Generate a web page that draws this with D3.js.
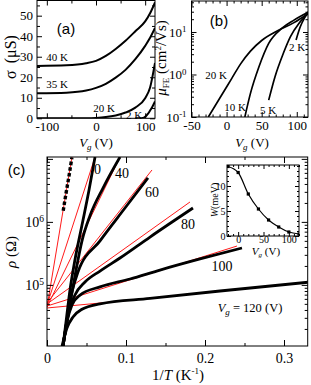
<!DOCTYPE html>
<html><head><meta charset="utf-8">
<script src="https://cdn.jsdelivr.net/npm/d3@7/dist/d3.min.js"></script>
<style>html,body{margin:0;padding:0;background:#fff}svg{display:block}</style>
</head><body>
<svg id="fig" width="311" height="385"></svg>
<script>
// ---------------- Panel (a): sigma (uS) vs Vg (V) ----------------
const aLabels = ["40 K", "35 K", "20 K", "2 K"];
const aV40 = [-120, -60, -20, 0, 20, 40, 60, 80, 100, 110, 120];
const aS40 = [25.5, 25.8, 26.8, 28.0, 30.4, 33.8, 37.8, 42.4, 47.2, 51.2, 56.5];
const aV35 = [-120, -60, -20, 0, 20, 40, 60, 80, 100, 110, 120];
const aS35 = [12.2, 12.5, 13.5, 14.8, 16.8, 19.8, 23.6, 28.8, 35.3, 39.2, 44.0];
const aV20 = [-120, -60, -20, 0, 20, 40, 60, 80, 100, 110, 120];
const aS20 = [0, 0, 0.05, 0.2, 0.6, 1.4, 2.8, 5.2, 9.8, 15.0, 27.0];
const aV2 = [80, 90, 95, 100, 105, 110, 115, 120];
const aS2 = [0, 0, 0.1, 0.7, 2.0, 3.8, 5.8, 8.2];
const aXTicks = [-100, 0, 100];
const aXMinor = [-50, 50];
const aYTicks = [0, 10, 20, 30, 40, 50];
const aYMinor = [5, 15, 25, 35, 45, 55];

// ---------------- Panel (b): mobility vs Vg ----------------
const bLabels = ["20 K", "10 K", "5 K", "2 K"];
const bV20 = [-26, -7, 7, 20, 34, 50, 72, 96, 116];
const bM20 = [0.1, 0.33, 0.79, 1.78, 3.55, 6.3, 10.5, 16.6, 27];
const bV10 = [26, 34, 46, 60, 79, 96, 116];
const bM10 = [0.1, 0.36, 1.5, 5.4, 12.3, 19, 29];
const bV5 = [60, 69, 81, 91, 103, 116];
const bM5 = [0.25, 0.89, 3.2, 7.8, 15.9, 27];
const bV2 = [99, 105, 112, 116];
const bM2 = [6.5, 13.3, 23, 29.5];
const bXTicks = [-50, 0, 50, 100];
const bXMinor = [-40, -30, -20, -10, 10, 20, 30, 40, 60, 70, 80, 90, 110];
const bYTicks = [0.1, 1, 10];

// ---------------- Panel (c): rho vs 1/T ----------------
const cLabels = ["0", "40", "60", "80", "100"];
const cXm = [0.0205, 0.024, 0.028, 0.0315];          // dashed (lowest Vg)
const cRm = [1.5e6, 2.8e6, 5.5e6, 1.05e7];
const cX0 = [0.0203, 0.0241, 0.0291, 0.0354, 0.0443, 0.0532, 0.0608];
const cR0 = [1.07e4, 2.6e4, 8.3e4, 2.5e5, 8.9e5, 3.2e6, 1.07e7];
const cX40 = [0.0203, 0.0253, 0.0304, 0.0367, 0.0443, 0.0544, 0.0709, 0.0924];
const cR40 = [1.07e4, 2.6e4, 6.2e4, 1.7e5, 5.0e5, 1.25e6, 3.45e6, 1.07e7];
const cX60 = [0.0203, 0.0253, 0.0316, 0.0392, 0.0671, 0.0987, 0.1278];
const cR60 = [1.07e4, 2.8e4, 7.7e4, 1.6e5, 5.0e5, 1.66e6, 5.0e6];
const cX80 = [0.0203, 0.0266, 0.0354, 0.0481, 0.0671, 0.0924, 0.1304, 0.1848];
const cR80 = [1.07e4, 3.3e4, 6.9e4, 1.11e5, 1.66e5, 2.67e5, 5.75e5, 1.66e6];
const cX100 = [0.0203, 0.0253, 0.0316, 0.0418, 0.0671, 0.1051, 0.143, 0.1937, 0.2468];
const cR100 = [1.07e4, 2.6e4, 4.8e4, 6.9e4, 9.3e4, 1.24e5, 1.72e5, 2.58e5, 3.85e5];
const cX120 = [0.019, 0.0253, 0.0329, 0.0443, 0.0671, 0.1304, 0.219, 0.333];
const cR120 = [1.07e4, 2.07e4, 3.1e4, 4.1e4, 5.0e4, 6.1e4, 8.0e4, 1.11e5];
// red Arrhenius fits: from 1/T = 0 (rho0) to end point
const fitXEnd = [0.0316, 0.0608, 0.0924, 0.1329, 0.181, 0.2405, 0.1494];
const fitR0 = [4.46e4, 4.8e4, 4.46e4, 5.16e4, 4.98e4, 4.62e4, 4.3e4];
const fitREnd = [1.07e7, 1.07e7, 1.07e7, 6.67e6, 2.07e6, 4.14e5, 6.43e4];
const cXTicks = [0, 0.1, 0.2, 0.3];
const cXMinor = [0.05, 0.15, 0.25];
const cYLabelTicks = [1e5, 1e6];

// ---------------- Inset: W (meV) vs Vg ----------------
const insV = [-20, 0, 20, 40, 60, 80, 100, 120];
const insW = [13.9, 12.7, 8.4, 5.4, 3.2, 1.8, 0.8, 0.4];
const insXTicks = [0, 50, 100];
const insYTicks = [0, 5, 10];

// =================================================================
const svg = d3.select("#fig");
const serif = "'Liberation Serif','Times New Roman',Times,serif";
const sans = "'Liberation Sans',Arial,Helvetica,sans-serif";
const RED = "#ff1a1a";
const zip = (xs, ys) => xs.map((x, i) => [x, ys[i]]);

function addText(x, y, parts, opts = {}) {
  const t = svg.append("text").attr("x", x).attr("y", y)
    .attr("font-family", opts.family || serif).attr("font-size", opts.size || 13)
    .attr("text-anchor", opts.anchor || "middle").attr("fill", "#000");
  if (opts.rotate) t.attr("transform", `rotate(-90,${x},${y})`);
  parts.forEach(p => {
    const s = t.append("tspan").text(p.t);
    if (p.i) s.attr("font-style", "italic");
    if (p.s) s.attr("font-size", p.s);
    if (p.dy) s.attr("dy", p.dy);
    if (p.dx) s.attr("dx", p.dx);
  });
  return t;
}
function ticks(gen, scale, vals, len, tx, ty) {
  const g = svg.append("g").attr("transform", `translate(${tx},${ty})`)
    .call(gen(scale).tickValues(vals).tickSizeInner(-len).tickSizeOuter(0).tickFormat(""));
  g.select(".domain").remove();
  g.selectAll("line").attr("stroke", "#000").attr("stroke-width", 1);
  return g;
}
function labels(gen, scale, vals, fmt, pad, tx, ty, size) {
  const g = svg.append("g").attr("transform", `translate(${tx},${ty})`)
    .call(gen(scale).tickValues(vals).tickSize(0).tickPadding(pad).tickFormat(fmt));
  g.select(".domain").remove();
  g.selectAll("line").remove();
  g.attr("font-family", serif).attr("font-size", size);
  g.selectAll("text").attr("fill", "#000");
  return g;
}
function supLabels(g) {
  g.selectAll("text").each(function (d) {
    const t = d3.select(this);
    const e = Math.round(Math.log10(d));
    t.text(null);
    t.append("tspan").text("10");
    t.append("tspan").attr("dy", "-0.5em").attr("font-size", "0.68em").text(e < 0 ? "-" + (-e) : e);
  });
}
function logMinor(domain) {
  const out = [];
  for (let e = -3; e <= 8; e++) for (let k = 1; k <= 9; k++) {
    const v = k * Math.pow(10, e);
    if (v >= domain[0] * 0.999 && v <= domain[1] * 1.001) out.push(v);
  }
  return out;
}
function frame(x0, y0, x1, y1, fill) {
  svg.append("rect").attr("x", x0).attr("y", y0).attr("width", x1 - x0).attr("height", y1 - y0)
    .attr("fill", fill || "none").attr("stroke", "#000").attr("stroke-width", 1);
}
function clip(id, x0, y0, x1, y1) {
  svg.append("clipPath").attr("id", id).append("rect")
    .attr("x", x0).attr("y", y0).attr("width", x1 - x0).attr("height", y1 - y0);
  return svg.append("g").attr("clip-path", `url(#${id})`);
}
const hy = d => (d < 0 ? "-" + (-d) : "" + d);

// ------------------------- Panel (a) -------------------------
{
  const L = 37, R = 155, T = 0.5, B = 118.3;
  const x = d3.scaleLinear().domain([-120, 120]).range([L, R]);
  const y = d3.scaleLinear().domain([0, 57.4]).range([B, T]);
  const g = clip("ca", L, T, R, B);
  const line = d3.line().x(d => x(d[0])).y(d => y(d[1])).curve(d3.curveMonotoneX);
  [[aV40, aS40], [aV35, aS35], [aV20, aS20], [aV2, aS2]].forEach(([vx, vy]) => {
    g.append("path").datum(zip(vx, vy)).attr("d", line)
      .attr("fill", "none").attr("stroke", "#000").attr("stroke-width", 2);
  });
  frame(L, T, R, B);
  ticks(d3.axisBottom, x, aXTicks, 5, 0, B); ticks(d3.axisBottom, x, aXMinor, 3, 0, B);
  ticks(d3.axisTop, x, aXTicks, 5, 0, T); ticks(d3.axisTop, x, aXMinor, 3, 0, T);
  ticks(d3.axisLeft, y, aYTicks, 5, L, 0); ticks(d3.axisLeft, y, aYMinor, 3, L, 0);
  ticks(d3.axisRight, y, aYTicks, 5, R, 0); ticks(d3.axisRight, y, aYMinor, 3, R, 0);
  labels(d3.axisBottom, x, aXTicks, hy, 3.5, 0, B, 13);
  labels(d3.axisLeft, y, aYTicks, d => d, 4, L, 0, 13);
  const lp = [[57, 60.5], [57, 88], [104, 112], [134, 118.5]];
  aLabels.forEach((s, i) => addText(lp[i][0], lp[i][1], [{ t: s }], { size: 11 }));
  addText(66, 34, [{ t: "(a)" }], { family: sans, size: 15 });
  addText(96, 147, [{ t: "V", i: 1 }, { t: "g", i: 1, s: 9, dy: 3 }, { t: " (V)", dy: -3 }], { size: 13 });
  addText(16, 57, [{ t: "σ" }, { t: "(μS)", dx: 7 }], { size: 16, rotate: 1 });
}

// ------------------------- Panel (b) -------------------------
{
  const L = 191.5, R = 308, T = 1, B = 117;
  const x = d3.scaleLinear().domain([-50, 116]).range([L, R]);
  const y = d3.scaleLog().domain([0.1, 53.6]).range([B, T]);
  const g = clip("cb", L, T, R, B);
  const line = d3.line().x(d => x(d[0])).y(d => y(d[1])).curve(d3.curveMonotoneX);
  [[bV20, bM20], [bV10, bM10], [bV5, bM5], [bV2, bM2]].forEach(([vx, vy]) => {
    g.append("path").datum(zip(vx, vy)).attr("d", line)
      .attr("fill", "none").attr("stroke", "#000").attr("stroke-width", 1.7);
  });
  frame(L, T, R, B);
  const minor = logMinor(y.domain()).filter(v => !bYTicks.includes(v));
  ticks(d3.axisBottom, x, bXTicks, 5, 0, B); ticks(d3.axisBottom, x, bXMinor, 2.5, 0, B);
  ticks(d3.axisTop, x, bXTicks, 5, 0, T); ticks(d3.axisTop, x, bXMinor, 2.5, 0, T);
  ticks(d3.axisLeft, y, bYTicks, 5, L, 0); ticks(d3.axisLeft, y, minor, 2.5, L, 0);
  ticks(d3.axisRight, y, bYTicks, 5, R, 0); ticks(d3.axisRight, y, minor, 2.5, R, 0);
  labels(d3.axisBottom, x, bXTicks, hy, 4, 0, B, 13);
  supLabels(labels(d3.axisLeft, y, bYTicks, d => d, 5, L, 0, 13));
  const lp = [[216, 79], [235, 111], [268, 114], [297, 51]];
  bLabels.forEach((s, i) => addText(lp[i][0], lp[i][1], [{ t: s }], { size: 11 }));
  addText(219, 26, [{ t: "(b)" }], { family: sans, size: 15 });
  addText(252, 147, [{ t: "V", i: 1 }, { t: "g", i: 1, s: 9, dy: 3 }, { t: " (V)", dy: -3 }], { size: 13 });
  addText(166, 58, [{ t: "μ", i: 1 }, { t: "FE", s: 9, dy: 3 }, { t: " (cm", dy: -3 }, { t: "2", s: 9, dy: -5 }, { t: "/Vs)", dy: 5 }], { size: 15, rotate: 1 });
}

// ------------------------- Panel (c) -------------------------
{
  const L = 47, R = 307.7, T = 157, B = 346;
  const x = d3.scaleLinear().domain([0, 0.33]).range([L, R]);
  const y = d3.scaleLog().domain([Math.pow(10, 4.03), Math.pow(10, 7.03)]).range([B, T]);
  const g = clip("cc", L, T, R, B);
  const line = d3.line().x(d => x(d[0])).y(d => y(d[1])).curve(d3.curveMonotoneX);
  // red fits first
  fitXEnd.forEach((xe, i) => {
    g.append("path").datum([[0, fitR0[i]], [xe, fitREnd[i]]]).attr("d", d3.line().x(d => x(d[0])).y(d => y(d[1])))
      .attr("fill", "none").attr("stroke", RED).attr("stroke-width", 1);
  });
  g.append("path").datum(zip(cXm, cRm)).attr("d", line)
    .attr("fill", "none").attr("stroke", "#000").attr("stroke-width", 3.4).attr("stroke-dasharray", "3.6,2.2");
  [[cX0, cR0], [cX40, cR40], [cX60, cR60], [cX80, cR80], [cX100, cR100], [cX120, cR120]].forEach(([vx, vy]) => {
    g.append("path").datum(zip(vx, vy)).attr("d", line)
      .attr("fill", "none").attr("stroke", "#000").attr("stroke-width", 2.8);
  });
  frame(L, T, R, B);
  const minor = logMinor(y.domain()).filter(v => Math.abs(Math.log10(v) % 1) > 1e-6);
  const major = [1e5, 1e6, 1e7].filter(v => v <= y.domain()[1]);
  ticks(d3.axisBottom, x, cXTicks, 6, 0, B); ticks(d3.axisBottom, x, cXMinor, 3, 0, B);
  ticks(d3.axisTop, x, cXTicks, 6, 0, T); ticks(d3.axisTop, x, cXMinor, 3, 0, T);
  ticks(d3.axisLeft, y, major, 6, L, 0); ticks(d3.axisLeft, y, minor, 3, L, 0);
  ticks(d3.axisRight, y, major, 6, R, 0); ticks(d3.axisRight, y, minor, 3, R, 0);
  labels(d3.axisBottom, x, cXTicks, d => d, 7, 0, B, 14);
  supLabels(labels(d3.axisLeft, y, cYLabelTicks, d => d, 3, L, 0, 14));
  const lp = [[97.5, 174], [122, 177.5], [152, 197], [188, 228.5], [222, 270.5]];
  cLabels.forEach((s, i) => addText(lp[i][0], lp[i][1], [{ t: s }], { size: 14 }));
  addText(250, 312, [{ t: "V", i: 1 }, { t: "g", i: 1, s: 9, dy: 3 }, { t: " = 120 (V)", dy: -3 }], { size: 12.5 });
  addText(16.5, 175, [{ t: "(c)" }], { family: sans, size: 15 });
  addText(178, 380, [{ t: "1/" }, { t: "T", i: 1 }, { t: " (K" }, { t: "-1", s: 9, dy: -6 }, { t: ")", dy: 6 }], { size: 15 });
  addText(16, 252, [{ t: "ρ", i: 1 }, { t: " (Ω)" }], { size: 15, rotate: 1 });
}

// ------------------------- Inset -------------------------
{
  const L = 227, R = 299, T = 165, B = 236;
  const x = d3.scaleLinear().domain([-22, 120]).range([L, R]);
  const y = d3.scaleLinear().domain([0, 14.2]).range([B, T]);
  frame(L, T, R, B, "#fff");
  const g = clip("ci", L, T, R, B);
  const pts = zip(insV, insW);
  g.append("path").datum(pts).attr("d", d3.line().x(d => x(d[0])).y(d => y(d[1])).curve(d3.curveMonotoneX))
    .attr("fill", "none").attr("stroke", "#000").attr("stroke-width", 1.2);
  g.selectAll("rect.pt").data(pts).join("rect").attr("class", "pt")
    .attr("x", d => x(d[0]) - 1.6).attr("y", d => y(d[1]) - 1.6).attr("width", 3.2).attr("height", 3.2).attr("fill", "#000");
  const xm = d3.range(-20, 121, 10).filter(v => !insXTicks.includes(v));
  const ym = d3.range(1, 15, 1).filter(v => !insYTicks.includes(v));
  ticks(d3.axisBottom, x, insXTicks, 4, 0, B); ticks(d3.axisBottom, x, xm, 2, 0, B);
  ticks(d3.axisTop, x, insXTicks, 4, 0, T); ticks(d3.axisTop, x, xm, 2, 0, T);
  ticks(d3.axisLeft, y, insYTicks, 4, L, 0); ticks(d3.axisLeft, y, ym, 2, L, 0);
  ticks(d3.axisRight, y, insYTicks, 4, R, 0); ticks(d3.axisRight, y, ym, 2, R, 0);
  labels(d3.axisBottom, x, insXTicks, d => d, 0, 0, B, 10);
  labels(d3.axisLeft, y, insYTicks, d => d, 1.5, L, 0, 10);
  addText(266, 255, [{ t: "V", i: 1 }, { t: "g", i: 1, s: 7, dy: 2 }, { t: " (V)", dy: -2 }], { size: 11 });
  addText(218, 200, [{ t: "W", i: 1 }, { t: "(meV)" }], { size: 10, rotate: 1 });
}
</script>
</body></html>
